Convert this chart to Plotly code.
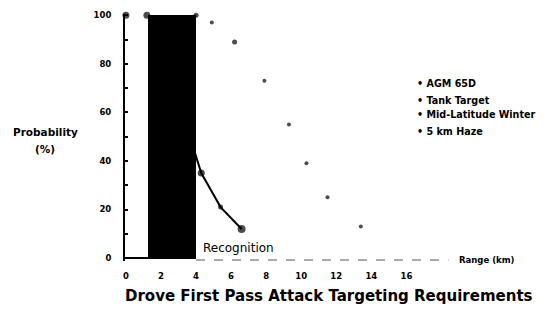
import plotly.graph_objects as go

# Detection (dotted curve), range km vs probability %
det_x = [0.0, 1.2, 4.0, 4.9, 6.2, 7.9, 9.3, 10.3, 11.5, 13.4]
det_y = [100, 100, 100, 97, 89, 73, 55, 39, 25, 13]
# Recognition (solid line)
rec_x = [3.95, 4.3, 5.4, 6.6]
rec_y = [43, 35, 21, 12]
rec_mx = [4.3, 5.4, 6.6]
rec_my = [35, 21, 12]
# Black band (required first-pass region)
band_lo = 1.25
band_hi = 4.0
band_top = 100

x_ticks = [0, 2, 4, 6, 8, 10, 12, 14, 16]
y_ticks = [0, 20, 40, 60, 80, 100]
legend_items = ["AGM 65D", "Tank Target", "Mid-Latitude Winter", "5 km Haze"]
legend_y = [72, 65, 59, 52]

FONT = "DejaVu Sans"

fig = go.Figure()
fig.add_trace(go.Bar(x=[(band_lo + band_hi) / 2], y=[band_top], width=[band_hi - band_lo],
                     marker=dict(color="black", line=dict(width=0)), showlegend=False))
# axis baseline: solid under band, dashed beyond
fig.add_trace(go.Scatter(x=[0, band_hi], y=[0, 0], mode="lines",
                         line=dict(color="black", width=2), showlegend=False))
fig.add_trace(go.Scatter(x=[band_hi, 18.4], y=[-0.8, -0.8], mode="lines",
                         line=dict(color="#555", width=1, dash="dash"), showlegend=False))
fig.add_trace(go.Scatter(x=det_x, y=det_y, mode="markers",
                         marker=dict(color="black", size=[7, 7, 5, 4, 5, 4, 4, 4, 4, 4], line=dict(width=0)),
                         showlegend=False, cliponaxis=False))
fig.add_trace(go.Scatter(x=rec_x, y=rec_y, mode="lines",
                         line=dict(color="black", width=2), showlegend=False))
fig.add_trace(go.Scatter(x=rec_mx, y=rec_my, mode="markers",
                         marker=dict(color="black", size=[7, 5, 8], line=dict(width=0)), showlegend=False))

ann = []
ann.append(dict(x=4.3, y=4, text="Recognition", xanchor="left", yanchor="middle", showarrow=False,
                font=dict(family=FONT, size=12, color="black")))
ann.append(dict(x=18.9, y=-0.8, text="Range (km)", xanchor="left", yanchor="middle", showarrow=False,
                font=dict(family=FONT, size=8.5, color="black", weight="bold")))
for t, yy in zip(legend_items, legend_y):
    ann.append(dict(x=16.5, y=yy, text="\u2022 " + t, xanchor="left", yanchor="middle", showarrow=False,
                    font=dict(family=FONT, size=9.6, color="black", weight="bold")))
ann.append(dict(xref="paper", x=-0.2395, y=52, text="Probability", xanchor="center", yanchor="middle",
                showarrow=False, font=dict(family=FONT, size=10.5, color="black", weight="bold")))
ann.append(dict(xref="paper", x=-0.2395, y=45, text="(%)", xanchor="center", yanchor="middle",
                showarrow=False, font=dict(family=FONT, size=10.5, color="black", weight="bold")))
ann.append(dict(x=11.6, yref="paper", y=-0.1417, text="Drove First Pass Attack Targeting Requirements",
                xanchor="center", yanchor="middle", showarrow=False,
                font=dict(family=FONT, size=15, color="black", weight="bold")))

# page body has an 8px margin: figure sized/offset to compensate
fig.update_layout(
    width=539, height=305,
    margin=dict(l=117, r=88, t=6, b=52, autoexpand=False),
    paper_bgcolor="white", plot_bgcolor="white",
    font=dict(family=FONT, color="black"),
    showlegend=False,
    bargap=0,
    annotations=ann,
    xaxis=dict(range=[-0.05, 19], showgrid=False, zeroline=False, showline=False,
               tickvals=x_ticks, ticktext=[str(v) for v in x_ticks], ticks="",
               ticklabelstandoff=8,
               tickfont=dict(family=FONT, size=8.5, color="black", weight="bold")),
    yaxis=dict(range=[-1.2, 100.5], showgrid=False, zeroline=False, showline=True, linecolor="black",
               linewidth=2, tickvals=y_ticks, ticktext=[str(v) for v in y_ticks], ticks="inside",
               ticklen=3, tickwidth=2, tickcolor="black", ticklabelstandoff=10,
               minor=dict(dtick=10, tick0=0, ticks="inside", ticklen=3, tickwidth=2, tickcolor="black"),
               tickfont=dict(family=FONT, size=8.5, color="black", weight="bold")),
)

fig.write_html("out.html")
